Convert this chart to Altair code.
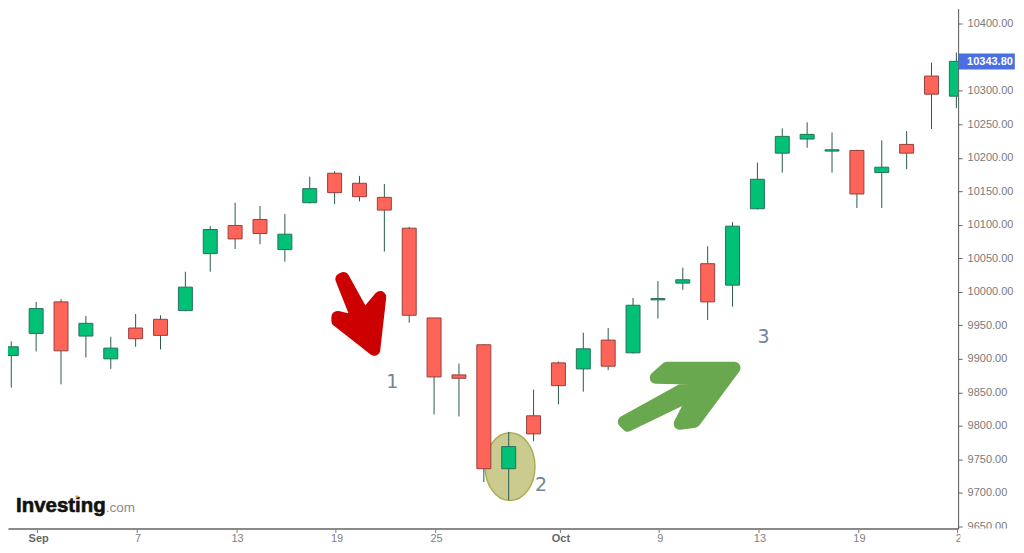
import altair as alt
import pandas as pd

highs = [9926,9985,9989,9964,9933,9967,9965,10030,10098,10133,10128,10116,10172,10180,10173,10161,10097,9961,9893,9922,9791,9854,9896,9939,9946,9991,10016,10036,10068,10104,10193,10244,10253,10238,10212,10226,10240,10342,10357]
lows = [9857,9911,9862,9902,9885,9918,9914,9971,10030,10064,10071,10045,10132,10131,10135,10060,9954,9817,9814,9716,9689,9777,9832,9851,9883,9908,9960,10003,9958,9978,10123,10178,10215,10178,10125,10125,10183,10243,10274]
opens = [9905,9938,9985,9934,9900,9946,9959,9972,10057,10099,10108,10063,10133,10177,10162,10141,10095,9961,9876,9921,9736,9815,9894,9885,9928,9909,9988,10013,10042,10010,10124,10207,10228,10210,10211,10178,10220,10322,10292]
closes = [9918,9975,9912,9953,9916,9930,9935,10007,10093,10079,10087,10086,10154,10148,10142,10122,9965,9873,9871,9736,9769,9788,9860,9915,9889,9980,9990,10018,9985,10098,10168,10232,10235,10212,10146,10186,10207,10295,10344]

x_ticks = [1, 5, 9, 13, 17, 22, 26, 30, 34, 38]
x_labels = ["Sep", "7", "13", "19", "25", "Oct", "9", "13", "19", "2"]
y_ticks = list(range(9650, 10401, 50))
last_price = 10343.80

RED_ARROW = [(342,279),(344,278),(365,316),(381,297),(375,350),(338,321),(338,317),(359,322)]
GREEN_ARROW = [(625,422),(703,379),(657,378),(668,368),(736,368),(696,422),(681,424),(697,393),(629,426)]
ELLIPSE = "M-25,0A25,34 0 1,1 25,0A25,34 0 1,1 -25,0Z"

GREEN, RED = "#00c176", "#ff6459"
GREEN_EDGE, RED_EDGE = "#27705a", "#96403e"
WICK = "#2a5a4c"

df = pd.DataFrame({"i": range(len(opens)), "h": highs, "l": lows, "o": opens, "c": closes})
df["dir"] = ["up" if c >= o else "down" for o, c in zip(opens, closes)]

x_scale = alt.Scale(domain=[-0.132, 38.07], nice=False, zero=False, padding=0)
y_scale = alt.Scale(domain=[9646.8, 10422.8], nice=False, zero=False, padding=0)
label_map = "{" + ",".join(f"{t}:'{s}'" for t, s in zip(x_ticks, x_labels)) + "}"

x_axis = alt.Axis(
    values=x_ticks, labelExpr=f"({label_map})[datum.value]", title=None, grid=False,
    domainColor="#8a8a8a", domainWidth=2, tickColor="#777777", tickSize=4, tickOffset=1,
    labelFont="Liberation Sans", labelFontSize=11, labelPadding=0, labelOffset=1,
    labelFontWeight=alt.expr("datum.value == 1 || datum.value == 22 ? 'bold' : 'normal'"),
    labelColor=alt.expr("datum.value == 1 || datum.value == 22 ? '#666666' : '#808080'"),
    labelFlush=False, labelOverlap=False,
)
y_axis = alt.Axis(
    values=y_ticks, labelExpr="datum.value == 10350 ? '' : format(datum.value, '.2f')",
    orient="right", title=None, grid=False,
    domainColor="#555555", tickColor="#666666", tickSize=4,
    labelFont="Liberation Sans", labelFontSize=11, labelColor="#7a7a7a",
    labelPadding=5, labelOverlap=False, labelFlush=False,
)

one = pd.DataFrame({"a": [0]})

def poly(points):
    cx, cy = points[0]
    return "M" + "L".join(f"{x-cx},{y-cy}" for x, y in points) + "Z", cx - 8, cy - 8

def shape(path, x, y, fill, stroke, sw):
    return alt.Chart(one).mark_point(
        shape=path, size=4, filled=True, fill=fill, stroke=stroke, strokeWidth=sw,
        strokeJoin="round", opacity=1,
    ).encode(x=alt.value(x), y=alt.value(y))

def label(text, x, y, **kw):
    return alt.Chart(pd.DataFrame({"t": [text]})).mark_text(**kw).encode(
        x=alt.value(x), y=alt.value(y), text="t:N")

ellipse = shape(ELLIPSE, 503, 459, "#cbcb90", "#a9ae52", 1.5)
rp, rx, ry = poly(RED_ARROW)
gp, gx, gy = poly(GREEN_ARROW)
red_arrow = shape(rp, rx, ry, "#cc0000", "#cc0000", 12)
green_arrow = shape(gp, gx, gy, "#6aa84f", "#6aa84f", 12)

wicks = alt.Chart(df).mark_rule(color=WICK, strokeWidth=1, clip=True).encode(
    x=alt.X("i:Q", scale=x_scale, axis=x_axis),
    y=alt.Y("l:Q", scale=y_scale, axis=y_axis),
    y2="h:Q",
)
bodies = alt.Chart(df).mark_bar(size=14, strokeWidth=1, clip=True).encode(
    x=alt.X("i:Q", scale=x_scale, axis=x_axis),
    y=alt.Y("o:Q", scale=y_scale, axis=y_axis),
    y2="c:Q",
    fill=alt.Fill("dir:N", scale=alt.Scale(domain=["up", "down"], range=[GREEN, RED]), legend=None),
    stroke=alt.Stroke("dir:N", scale=alt.Scale(domain=["up", "down"], range=[GREEN_EDGE, RED_EDGE]), legend=None),
)

def band(x, x2, y, y2, color):
    return alt.Chart(pd.DataFrame({"x": [x], "x2": [x2], "y": [y], "y2": [y2]})).mark_rect(color=color).encode(
        x=alt.X("x:Q", scale=x_scale, axis=x_axis), x2="x2:Q",
        y=alt.Y("y:Q", scale=y_scale, axis=y_axis), y2="y2:Q")

cover = band(38.16, 40.5, 9646.8, 9625, "white")
tag = band(38.09, 40.35, last_price - 12, last_price + 12, "#4a6fe3")
tag_text = label(f"{last_price:.2f}", 961, 54, align="left", baseline="middle",
                 font="Liberation Sans", fontSize=11, color="white", fontWeight="bold")

digit = dict(align="center", baseline="middle", font="DejaVu Sans", fontSize=19, color="#6f869c")
d1 = label("1", 385, 374, **digit)
d2 = label("2", 534, 477, **digit)
d3 = label("3", 757, 329, **digit)

logo1 = label("Investing", 8, 504, align="left", baseline="alphabetic", font="Liberation Sans",
              fontSize=20.5, fontWeight="bold", color="#111111", stroke="#111111", strokeWidth=0.6)
logo2 = label(".com", 98, 504, align="left", baseline="alphabetic", font="Liberation Sans",
              fontSize=13.5, color="#8a8a8a")
logo_dot = alt.Chart(one).mark_point(filled=True, size=8, color="#f5a623", opacity=1).encode(
    x=alt.value(69), y=alt.value(489))

chart = alt.layer(
    ellipse, wicks, bodies, red_arrow, green_arrow, cover, tag, tag_text, d1, d2, d3, logo1, logo2, logo_dot
).properties(
    width=952, height=521,
    padding={"left": 0, "top": 0, "right": 58, "bottom": 16},
    autosize=alt.AutoSizeParams(type="none"),
    background="white",
).configure_view(strokeWidth=0)

chart.save("out.html", embed_options={"renderer": "svg", "actions": False})
